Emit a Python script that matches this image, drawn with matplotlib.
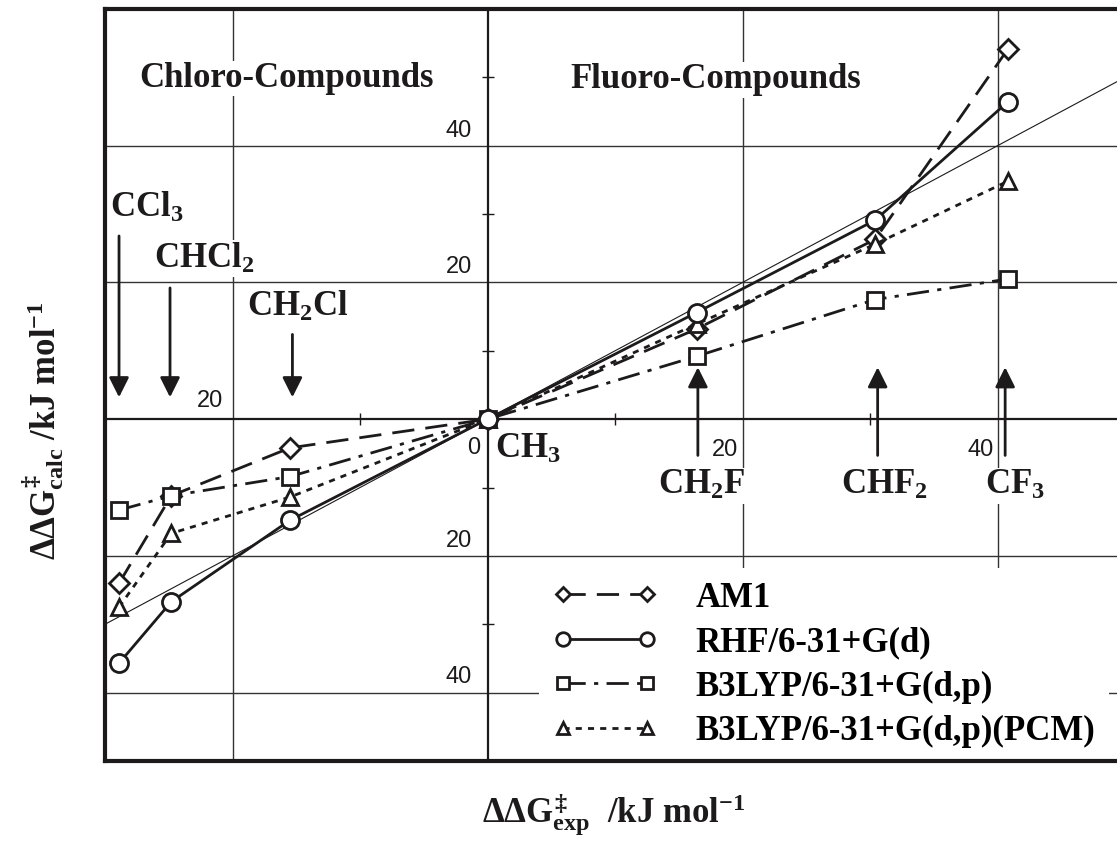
import matplotlib
matplotlib.use("Agg")
import matplotlib.pyplot as plt

# experimental dG (x) for each substituent, CCl3 ... CF3
x_exp = [-28.9, -24.8, -15.5, 0.0, 16.4, 30.4, 40.8]

# calculated values for each method
am1 = [-24.0, -11.2, -4.2, 0.0, 13.2, 26.3, 54.1]
rhf = [-35.7, -26.7, -14.8, 0.0, 15.6, 29.1, 46.4]
b3lyp = [-13.3, -11.2, -8.4, 0.0, 9.2, 17.5, 20.5]
b3lyp_pcm = [-27.5, -16.7, -11.4, 0.0, 13.9, 25.6, 34.8]

method_names = ["AM1", "RHF/6-31+G(d)", "B3LYP/6-31+G(d,p)", "B3LYP/6-31+G(d,p)(PCM)"]

# compound labels and where the arrows point
chloro_labels = ["CCl$_3$", "CHCl$_2$", "CH$_2$Cl"]
chloro_arrow_x = [-28.9, -24.9, -15.3]
chloro_arrow_top = [26.8, 19.2, 12.4]
chloro_label_pos = [(-29.6, 29.6), (-26.15, 22.2), (-18.85, 15.1)]

fluoro_labels = ["CH$_2$F", "CHF$_2$", "CF$_3$"]
fluoro_arrow_x = [16.5, 30.6, 40.6]
fluoro_label_pos = [(13.4, -11.0), (27.7, -11.0), (39.0, -11.0)]

major_x = [-20, 20, 40]
major_y = [-40, -20, 20, 40]
minor_x = [-10, 10, 30]
minor_y = [-30, -10, 10, 30, 50]

ink = "#1c1a1a"

plt.rcParams["mathtext.fontset"] = "custom"
plt.rcParams["mathtext.rm"] = "Liberation Serif:bold"
plt.rcParams["mathtext.it"] = "Liberation Serif:bold"
plt.rcParams["mathtext.bf"] = "Liberation Serif:bold"

fig = plt.figure(figsize=(11.17, 8.46), dpi=100)
# axes runs past the right edge of the figure, like the cropped original
ax = fig.add_axes([105 / 1117, 85 / 846, 1020 / 1117, 752 / 846])
ax.set_xlim(-30, 50)
ax.set_ylim(-50, 60)
ax.set_xticks([])
ax.set_yticks([])
for s in ax.spines.values():
    s.set_linewidth(3.0)
    s.set_color(ink)

# grid and the two centre axes
for gx in major_x:
    ax.axvline(gx, color="#333333", lw=1.0, zorder=1)
for gy in major_y:
    ax.axhline(gy, color="#333333", lw=1.0, zorder=1)
ax.axhline(0, color=ink, lw=1.6, zorder=1)
ax.axvline(0, color=ink, lw=1.6, zorder=1)
ax.plot(minor_x, [0] * len(minor_x), ls="none", marker="|", ms=9, mew=1.0, color=ink, zorder=1)
ax.plot([0] * len(minor_y), minor_y, ls="none", marker="_", ms=9, mew=1.0, color=ink, zorder=1)

# tick labels, drawn next to the centre axes
tick_font = dict(family="Liberation Sans", size=17, color=ink)
for gy in major_y:
    ax.annotate(str(abs(gy)), (0, gy), xytext=(-11, 3), textcoords="offset points",
                ha="right", va="bottom", **tick_font)
for gx in major_x:
    if gx < 0:
        ax.annotate(str(abs(gx)), (gx, 0), xytext=(-7, 5), textcoords="offset points",
                    ha="right", va="bottom", **tick_font)
    else:
        ax.annotate(str(gx), (gx, 0), xytext=(-3, -14), textcoords="offset points",
                    ha="right", va="top", **tick_font)
ax.annotate("0", (0, 0), xytext=(-5, -13), textcoords="offset points",
            ha="right", va="top", **tick_font)

# y = x reference line
ax.axline((0, 0), slope=1, color=ink, lw=0.8, zorder=2)

mk = dict(mfc="white", mec=ink, mew=2.0, color=ink, lw=2.0)
ax.plot(x_exp, am1, marker="D", ms=10, ls=(0, (8, 4)), label=method_names[0], zorder=3, **mk)
ax.plot(x_exp, b3lyp_pcm, marker="^", ms=12, ls=(0, (2.2, 2.2)), label=method_names[3], zorder=3, **mk)
ax.plot(x_exp, b3lyp, marker="s", ms=12, ls=(0, (8, 3, 1.5, 3)), label=method_names[2], zorder=4, **mk)
ax.plot(x_exp, rhf, marker="o", ms=13, ls="-", label=method_names[1], zorder=4, **mk)

label_font = dict(family="Liberation Serif", weight="bold", size=25, color=ink)
box = dict(fc="white", ec="none", pad=1)

for lab, ax_x, top, pos in zip(chloro_labels, chloro_arrow_x, chloro_arrow_top, chloro_label_pos):
    ax.annotate("", xy=(ax_x, 3.2), xytext=(ax_x, top),
                arrowprops=dict(arrowstyle="-|>", lw=2.0, color=ink, mutation_scale=30,
                                shrinkA=0, shrinkB=0), zorder=5)
    ax.text(pos[0], pos[1], lab, ha="left", va="baseline", bbox=box, zorder=6, **label_font)

for lab, ax_x, pos in zip(fluoro_labels, fluoro_arrow_x, fluoro_label_pos):
    ax.annotate("", xy=(ax_x, 7.6), xytext=(ax_x, -5.3),
                arrowprops=dict(arrowstyle="-|>", lw=2.0, color=ink, mutation_scale=30,
                                shrinkA=0, shrinkB=0), zorder=5)
    ax.text(pos[0], pos[1], lab, ha="left", va="baseline", bbox=box, zorder=6, **label_font)

ax.text(0.6, -5.6, "CH$_3$", ha="left", va="baseline", zorder=6, **label_font)

group_font = dict(family="Liberation Serif", weight="bold", size=25, color=ink)
ax.text(-27.3, 48.6, "Chloro-Compounds", ha="left", va="baseline", bbox=box, zorder=6, **group_font)
ax.text(6.5, 48.4, "Fluoro-Compounds", ha="left", va="baseline", bbox=box, zorder=6, **group_font)

# legend in the order of the original; kept under the frame so the bottom spine shows
handles, labels = ax.get_legend_handles_labels()
order = [labels.index(n) for n in method_names]
leg = ax.legend([handles[i] for i in order], [labels[i] for i in order],
                loc="upper left", bbox_to_anchor=(0.4255, 0.257), borderaxespad=0,
                prop=dict(family="Liberation Serif", weight="bold", size=25),
                numpoints=2, handlelength=3.0, handletextpad=1.1, labelspacing=0.33,
                borderpad=0.4, markerscale=0.75, frameon=True, fancybox=False)
leg.get_frame().set_facecolor("white")
leg.get_frame().set_edgecolor("none")
leg.get_frame().set_alpha(1)
leg.set_zorder(2.2)

fig.text(614 / 1117, 1 - 815 / 846, r"$\Delta\Delta G^{\ddag}_{exp}$  /kJ mol$^{-1}$",
         ha="center", va="center", **label_font)
fig.text(43 / 1117, 1 - 431 / 846, r"$\Delta\Delta G^{\ddag}_{calc}$ /kJ mol$^{-1}$",
         ha="center", va="center", rotation=90, **label_font)

fig.savefig("out.png", dpi=100)
